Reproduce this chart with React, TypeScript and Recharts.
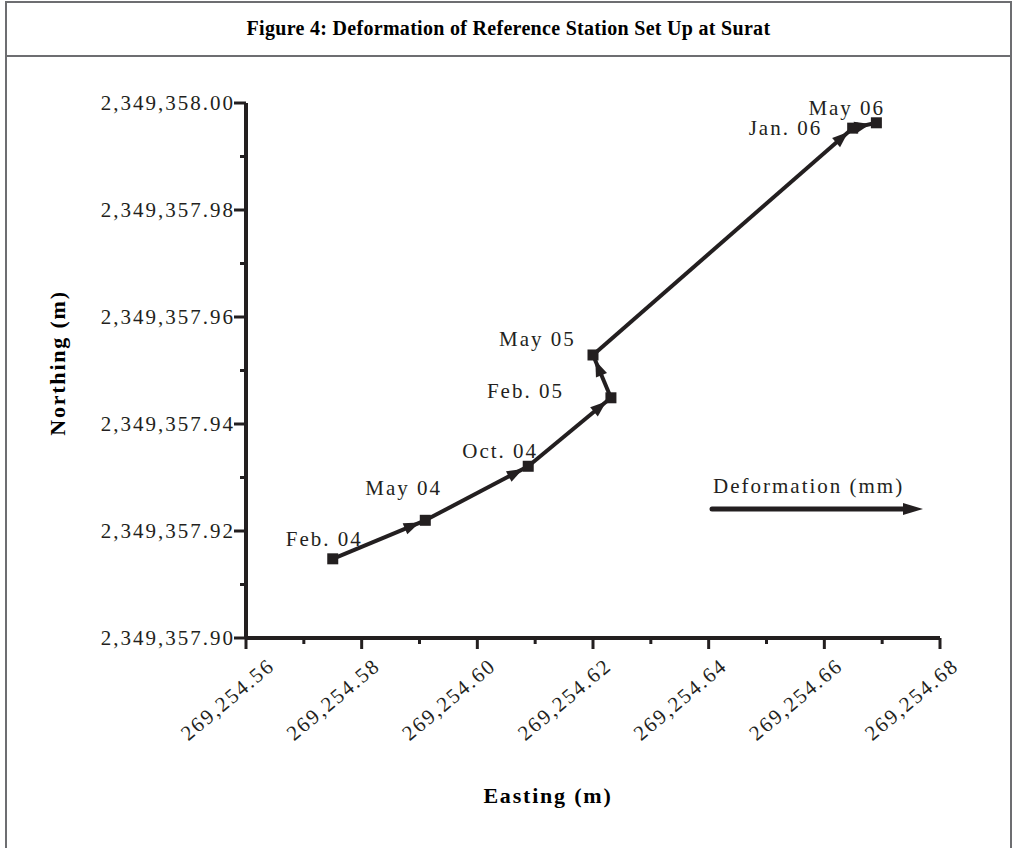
import React from "react";
import { LineChart, Line, XAxis, YAxis, LabelList } from "recharts";

// 観測時期ごとの基準点座標 (m)
const epochs = ["Feb. 04", "May 04", "Oct. 04", "Feb. 05", "May 05", "Jan. 06", "May 06"];
const eastings = [269254.575, 269254.591, 269254.6088, 269254.6231, 269254.62, 269254.6649, 269254.669];
const northings = [2349357.9148, 2349357.922, 2349357.9321, 2349357.9449, 2349357.9529, 2349357.9953, 2349357.9963];

// 目盛り (0.01刻み、0.02ごとにラベル)
const xTicks = [
  269254.56, 269254.57, 269254.58, 269254.59, 269254.6, 269254.61, 269254.62,
  269254.63, 269254.64, 269254.65, 269254.66, 269254.67, 269254.68,
];
const yTicks = [
  2349357.9, 2349357.91, 2349357.92, 2349357.93, 2349357.94, 2349357.95,
  2349357.96, 2349357.97, 2349357.98, 2349357.99, 2349358.0,
];

const INK = "#231f20";
const FONT = '"Liberation Serif", "Times New Roman", serif';

const points = epochs.map((label, i) => ({ label, e: eastings[i], n: northings[i] }));
// 矢印は1区間ずつ描く
const segments = points.slice(1).map((p, i) => [points[i], p]);

// ラベルの位置 (点からのずらし量)
const labelOffsets: [number, number][] = [
  [-47, -13],
  [-60, -25],
  [-66, -8],
  [-124, 0],
  [-94, -9],
  [-104, 7],
  [-68, -8],
];

const fmt = (v: number) =>
  v.toLocaleString("en-US", { minimumFractionDigits: 2, maximumFractionDigits: 2 });
const isMajor = (v: number) => Math.round(v * 100) % 2 === 0;

const textStyle = { fontFamily: FONT, fontSize: 21, letterSpacing: 2, fill: INK };

function XTick(props: any) {
  const { x, y, payload, index } = props;
  const major = isMajor(payload.value);
  const tx = x + 20 + (index === 0 ? 10 : 0);
  const ty = y + 30;
  return (
    <g>
      <line x1={x} x2={x} y1={y} y2={y + (major ? 11 : 6)} stroke={INK} strokeWidth={3} />
      {major && (
        <text x={tx} y={ty} transform={`rotate(-40 ${tx} ${ty})`} textAnchor="end" style={textStyle}>
          {fmt(payload.value)}
        </text>
      )}
    </g>
  );
}

function YTick(props: any) {
  const { x, y, payload } = props;
  const major = isMajor(payload.value);
  return (
    <g>
      <line x1={x - (major ? 12 : 6)} x2={x} y1={y} y2={y} stroke={INK} strokeWidth={3} />
      {major && (
        <text x={x - 11} y={y} dy="0.35em" textAnchor="end" style={textStyle}>
          {fmt(payload.value)}
        </text>
      )}
    </g>
  );
}

function SquareDot(props: any) {
  const { cx, cy, index } = props;
  return <rect key={`sq-${index}`} x={cx - 5.5} y={cy - 5.5} width={11} height={11} fill={INK} />;
}

function PointLabel(props: any) {
  const { x, y, value, index } = props;
  const [dx, dy] = labelOffsets[index] || [0, 0];
  return (
    <text x={x + dx} y={y + dy} style={textStyle}>
      {value}
    </text>
  );
}

function AxisTitle(props: any) {
  const { tx, ty, rot, text } = props;
  return (
    <text
      x={tx}
      y={ty}
      textAnchor="middle"
      dominantBaseline="central"
      transform={rot ? `rotate(${rot} ${tx} ${ty})` : undefined}
      style={{ fontFamily: FONT, fontSize: 22, fontWeight: "bold", letterSpacing: 1.8, fill: "#000" }}
    >
      {text}
    </text>
  );
}

export default function App() {
  return (
    <div
      style={{
        position: "absolute",
        left: 0,
        top: 0,
        width: 1014,
        height: 848,
        overflow: "hidden",
        background: "#fff",
      }}
    >
      {/* 矢印の先端 */}
      <svg width={0} height={0} style={{ position: "absolute" }}>
        <defs>
          <marker
            id="arrowHead"
            viewBox="0 0 16 12"
            markerWidth={16}
            markerHeight={12}
            refX={22}
            refY={6}
            orient="auto"
            markerUnits="userSpaceOnUse"
            overflow="visible"
          >
            <path d="M0,0 L16,6 L0,12 z" fill={INK} />
          </marker>
        </defs>
      </svg>

      {/* 枠とタイトル */}
      <div
        style={{
          position: "absolute",
          left: 5,
          top: 1,
          width: 1007,
          height: 900,
          border: "2px solid #6d6e71",
          boxSizing: "border-box",
        }}
      />
      <div style={{ position: "absolute", left: 5, top: 55, width: 1007, height: 2, background: "#6d6e71" }} />
      <div
        style={{
          position: "absolute",
          left: 5,
          top: 14,
          width: 1007,
          textAlign: "center",
          fontFamily: FONT,
          fontWeight: "bold",
          fontSize: 20,
          letterSpacing: 0.3,
          lineHeight: "28px",
          color: "#000",
        }}
      >
        Figure 4: Deformation of Reference Station Set Up at Surat
      </div>

      <div style={{ position: "absolute", left: 0, top: 0 }}>
        <LineChart width={1014} height={848} data={points} margin={{ top: 103, right: 74, left: 0, bottom: 30 }}>
          <XAxis
            type="number"
            dataKey="e"
            domain={[269254.56, 269254.68]}
            ticks={xTicks}
            interval={0}
            height={180}
            tickSize={0}
            tickMargin={0}
            tickLine={false}
            tick={<XTick />}
            axisLine={{ stroke: INK, strokeWidth: 4 }}
            label={<AxisTitle tx={548} ty={795} text="Easting (m)" />}
          />
          <YAxis
            type="number"
            dataKey="n"
            domain={[2349357.9, 2349358.0]}
            ticks={yTicks}
            interval={0}
            width={246}
            tickSize={0}
            tickMargin={0}
            tickLine={false}
            tick={<YTick />}
            axisLine={{ stroke: INK, strokeWidth: 4 }}
            label={<AxisTitle tx={57} ty={363} rot={-90} text="Northing (m)" />}
          />
          {segments.map((seg, i) => (
            <Line
              key={`seg-${i}`}
              data={seg}
              dataKey="n"
              stroke={INK}
              strokeWidth={4}
              dot={false}
              activeDot={false}
              markerEnd="url(#arrowHead)"
              isAnimationActive={false}
            />
          ))}
          <Line
            data={points}
            dataKey="n"
            stroke="none"
            strokeWidth={0}
            dot={<SquareDot />}
            activeDot={false}
            isAnimationActive={false}
          >
            <LabelList dataKey="label" content={<PointLabel />} />
          </Line>
        </LineChart>
      </div>

      {/* 凡例: 変位の矢印 */}
      <svg width={240} height={50} style={{ position: "absolute", left: 700, top: 470 }}>
        <text x={13} y={23} style={textStyle}>
          Deformation (mm)
        </text>
        <line x1={12} y1={39} x2={205} y2={39} stroke={INK} strokeWidth={5} strokeLinecap="round" />
        <path d="M203,33 L223,39 L203,45 z" fill={INK} />
      </svg>
    </div>
  );
}
